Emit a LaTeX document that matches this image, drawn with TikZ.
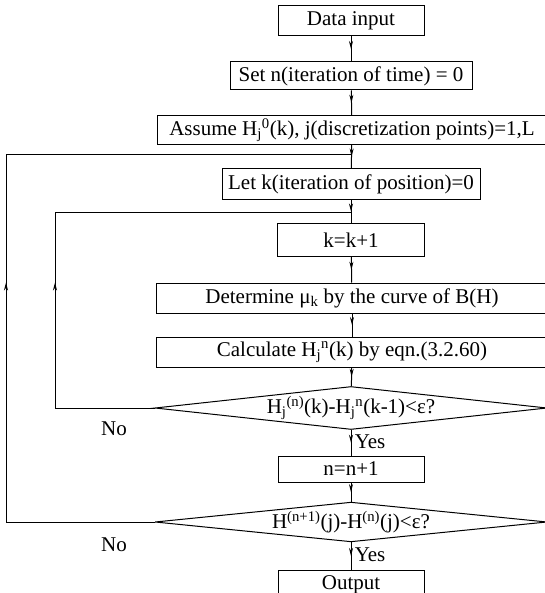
\documentclass[tikz,border=0pt]{standalone}
\usepackage{fontspec}
\setmainfont{Liberation Serif}
\usetikzlibrary{shapes.geometric,arrows.meta,decorations.markings}

\newcommand{\hsub}[2]{H\textsubscript{#1}\textsuperscript{#2}}

\tikzset{
    box/.style={draw, line width=1pt, inner sep=0pt, minimum height=30pt},
    test/.style={draw, diamond, aspect=9, line width=1pt, inner sep=0pt, minimum width=392pt},
    flow/.style={line width=1pt},
    tipat/.style={postaction={decorate, decoration={markings,
        mark=at position #1 with {\arrow{Stealth[length=8pt, width=4pt]}}}}}
}

\begin{document}
\begin{tikzpicture}[x=1pt, y=-1pt, font=\fontsize{21}{23}\selectfont]
        \useasboundingbox (0,0) rectangle (544,593);

        \node[box, minimum width=146pt] (din) at (351,21) {Data input};
        \node[box, minimum width=242pt, minimum height=28pt] (setn) at (351,76) {Set n(iteration of time) = 0};
        \node[box, minimum width=390pt, minimum height=29pt] (assume) at (352,130) {Assume \hsub{j}{0}(k), j(discretization points)=1,L};
        \node[box, minimum width=258pt, minimum height=31pt] (letk) at (351,184) {Let k(iteration of position)=0};
        \node[box, minimum width=147pt, minimum height=33pt] (kinc) at (351,240) {k=k+1};
        \node[box, minimum width=392pt] (detmu) at (352,298) {Determine μ\textsubscript{k} by the curve of B(H)};
        \node[box, minimum width=392pt] (calc) at (352,352) {Calculate \hsub{j}{n}(k) by eqn.(3.2.60)};
        \node[test, minimum height=43pt] (test1) at (351,408) {\hsub{j}{(n)}(k)-\hsub{j}{n}(k-1)<ε?};
        \node[box, minimum width=146pt, minimum height=26pt] (ninc) at (351,469) {n=n+1};
        \node[test, minimum height=39pt] (test2) at (351,522) {H\textsuperscript{(n+1)}(j)-H\textsuperscript{(n)}(j)<ε?};
        \node[box, minimum width=146pt] (out) at (351,585) {Output};

        \draw[flow, tipat=0.5] (din) -- (setn);
        \draw[flow, tipat=0.5] (setn) -- (assume);
        \draw[flow, tipat=0.5] (assume) -- (letk);
        \draw[flow, tipat=0.5] (letk) -- (kinc);
        \draw[flow, tipat=0.5] (kinc) -- (detmu);
        \draw[flow, tipat=0.5] (detmu) -- (calc);
        \draw[flow, tipat=0.5] (calc) -- (test1);
        \draw[flow, tipat=0.5] (test1) -- node[right, pos=0.45]{Yes} (ninc);
        \draw[flow, tipat=0.5] (ninc) -- (test2);
        \draw[flow, tipat=0.5] (test2) -- node[right, pos=0.45]{Yes} (out);

        \coordinate (i1) at (55,408);
        \coordinate (i2) at (55,213);
        \coordinate (i3) at (351,213);
        \draw[flow, tipat=225pt] (test1.west) -- (i1) -- (i2) -- (i3);
        \node (no1) at (114,429) {No};

        \coordinate (o1) at (6,522);
        \coordinate (o2) at (6,155);
        \coordinate (o3) at (351,155);
        \draw[flow, tipat=388pt] (test2.west) -- (o1) -- (o2) -- (o3);
        \node (no2) at (114,545) {No};
    \end{tikzpicture}
\end{document}
